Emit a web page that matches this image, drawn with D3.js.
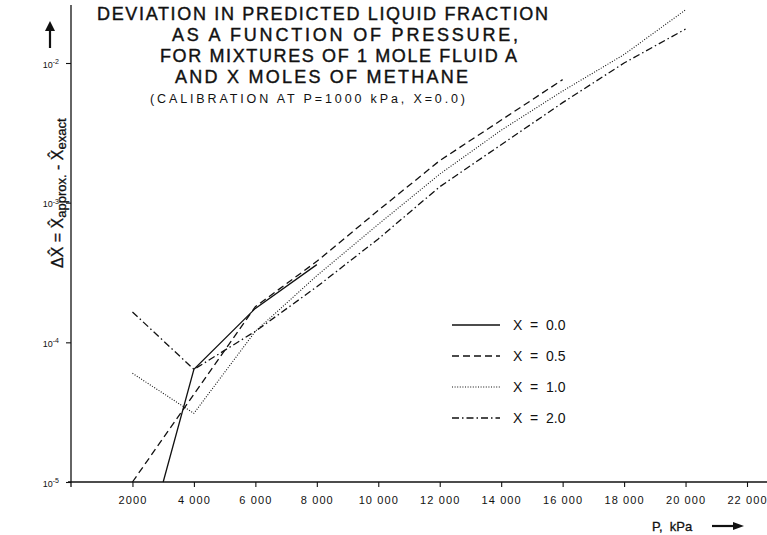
<!DOCTYPE html>
<html lang="en">
  <head>
    <meta charset="UTF-8" />
    <title>Deviation in predicted liquid fraction</title>
    <style>
      body { margin: 0; background: #fff; }
      text { font-family: "Liberation Sans", Arial, sans-serif; fill: #111; }
    </style>
    <script src="https://d3js.org/d3.v7.min.js"></script>
  </head>
  <body>
    <svg width="767" height="535"></svg>
    <script>
      // pressure in kPa, deviation values
      var pX0 = [3000, 4000, 6000, 8000];
      var dX0 = [1e-5, 6.4e-5, 1.75e-4, 3.6e-4];
      var pX05 = [2000, 6000, 8000, 10000, 12000, 16000];
      var dX05 = [1e-5, 1.8e-4, 3.8e-4, 8.8e-4, 2.0e-3, 7.6e-3];
      var pX1 = [2000, 4000, 6000, 8000, 10000, 12000, 14000, 16000, 18000, 20000];
      var dX1 = [6e-5, 3.1e-5, 1.2e-4, 3.0e-4, 7.0e-4, 1.6e-3, 3.3e-3, 6.3e-3, 1.15e-2, 2.4e-2];
      var pX2 = [2000, 4000, 6000, 8000, 10000, 12000, 14000, 16000, 18000, 20000];
      var dX2 = [1.65e-4, 6.4e-5, 1.2e-4, 2.5e-4, 5.5e-4, 1.3e-3, 2.6e-3, 5.2e-3, 1.0e-2, 1.75e-2];

      var seriesNames = ["X  =  0.0", "X  =  0.5", "X  =  1.0", "X  =  2.0"];
      var dashes = [null, "7,4", "1,1.6", "7,3,1.5,3"];

      var xTicks = [2000, 4000, 6000, 8000, 10000, 12000, 14000, 16000, 18000, 20000, 22000];
      var xTickLabels = ["2000", "4 000", "6 000", "8 000", "10 000", "12 000", "14 000", "16 000", "18 000", "20 000", "22 000"];
      var yTicks = [1e-2, 1e-3, 1e-4, 1e-5];
      var yTickExp = ["-2", "-3", "-4", "-5"];

      var titleLines = [
        "DEVIATION IN PREDICTED LIQUID FRACTION",
        "AS A FUNCTION OF PRESSURE,",
        "FOR MIXTURES OF 1 MOLE FLUID A",
        "AND X MOLES OF METHANE"
      ];
      var subTitle = "(CALIBRATION AT P=1000 kPa, X=0.0)";

      var svg = d3.select("svg");
      var x = d3.scaleLinear().domain([0, 22000]).range([71, 747]);
      var y = d3.scaleLog().domain([1e-5, 1e-2]).range([482, 63]);

      // axes
      svg.append("line").attr("x1", 71).attr("x2", 71).attr("y1", 5).attr("y2", 487)
        .attr("stroke", "#111").attr("stroke-width", 1.3);
      svg.append("line").attr("x1", 68).attr("x2", 767).attr("y1", 482).attr("y2", 482)
        .attr("stroke", "#111").attr("stroke-width", 1.3);

      var xAxis = svg.append("g").attr("transform", "translate(0,482)")
        .call(d3.axisBottom(x).tickValues(xTicks).tickSize(5).tickPadding(9)
          .tickFormat((d, i) => xTickLabels[i]));
      xAxis.select(".domain").remove();
      xAxis.selectAll("line").attr("stroke", "#111").attr("stroke-width", 1.1);
      xAxis.selectAll("text").attr("font-size", 11).attr("letter-spacing", 1.1)
        .attr("font-family", "Liberation Sans, Arial, sans-serif").attr("fill", "#111");

      var yAxis = svg.append("g").attr("transform", "translate(71,0)")
        .call(d3.axisLeft(y).tickValues(yTicks).tickSize(5).tickPadding(3).tickFormat(""));
      yAxis.select(".domain").remove();
      yAxis.selectAll("line").attr("stroke", "#111").attr("stroke-width", 1.1);
      yAxis.selectAll(".tick text").each(function (d, i) {
        var t = d3.select(this).attr("font-size", 9).attr("fill", "#111")
          .attr("font-family", "Liberation Sans, Arial, sans-serif").attr("dy", "0.45em").attr("x", -12);
        t.append("tspan").text("10");
        t.append("tspan").attr("dy", "-0.5em").attr("font-size", 7).text(yTickExp[i]);
      });

      // curves
      var line = d3.line().x((d) => x(d[0])).y((d) => y(d[1]));
      var series = [d3.zip(pX0, dX0), d3.zip(pX05, dX05), d3.zip(pX1, dX1), d3.zip(pX2, dX2)];
      svg.append("g").selectAll("path").data(series).join("path")
        .attr("d", (d) => line(d))
        .attr("fill", "none")
        .attr("stroke", "#111")
        .attr("stroke-width", (d, i) => (i == 2 ? 1.1 : 1.3))
        .attr("stroke-dasharray", (d, i) => dashes[i]);

      // legend
      var legend = svg.append("g").selectAll("g").data(seriesNames).join("g")
        .attr("transform", (d, i) => "translate(452," + (325 + i * 31) + ")");
      legend.append("line").attr("x1", 0).attr("x2", 48)
        .attr("stroke", "#111").attr("stroke-width", (d, i) => (i == 2 ? 1.1 : 1.3))
        .attr("stroke-dasharray", (d, i) => dashes[i]);
      legend.append("text").attr("x", 61).attr("y", 5).attr("font-size", 14)
        .attr("xml:space", "preserve").style("white-space", "pre").text((d) => d);

      // title
      var title = svg.append("g").attr("font-size", 18);
      var tStart = [97, 172, 160, 175];
      var tEnd = [548, 518, 517, 468];
      title.selectAll("text").data(titleLines).join("text")
        .attr("x", (d, i) => tStart[i]).attr("y", (d, i) => 20 + i * 21)
        .attr("textLength", (d, i) => tEnd[i] - tStart[i]).attr("lengthAdjust", "spacing")
        .attr("stroke", "#111").attr("stroke-width", 0.4)
        .text((d) => d);
      svg.append("text").attr("x", 150).attr("y", 103).attr("font-size", 12.5)
        .attr("textLength", 315).attr("lengthAdjust", "spacing").text(subTitle);

      // y label, rotated
      var yl = svg.append("text").attr("transform", "translate(63,268) rotate(-90)")
        .attr("font-size", 16).attr("stroke", "#111").attr("stroke-width", 0.3);
      yl.append("tspan").text("\u0394X\u0302 = X\u0302");
      yl.append("tspan").attr("font-size", 13).attr("dy", 3).text("approx.");
      yl.append("tspan").attr("dy", -3).text(" - X\u0302");
      yl.append("tspan").attr("font-size", 13).attr("dy", 3).text("exact");

      // arrows
      svg.append("line").attr("x1", 50).attr("x2", 50).attr("y1", 48).attr("y2", 30)
        .attr("stroke", "#111").attr("stroke-width", 2.2);
      svg.append("path").attr("d", "M45,31 L50,21 L55,31 Z").attr("fill", "#111");

      svg.append("text").attr("x", 652).attr("y", 531).attr("font-size", 13)
        .attr("xml:space", "preserve").style("white-space", "pre")
        .attr("stroke", "#111").attr("stroke-width", 0.3).text("P,  kPa");
      svg.append("line").attr("x1", 712).attr("x2", 735).attr("y1", 526).attr("y2", 526)
        .attr("stroke", "#111").attr("stroke-width", 2.2);
      svg.append("path").attr("d", "M733,522 L744,526 L733,530 Z").attr("fill", "#111");
    </script>
  </body>
</html>
